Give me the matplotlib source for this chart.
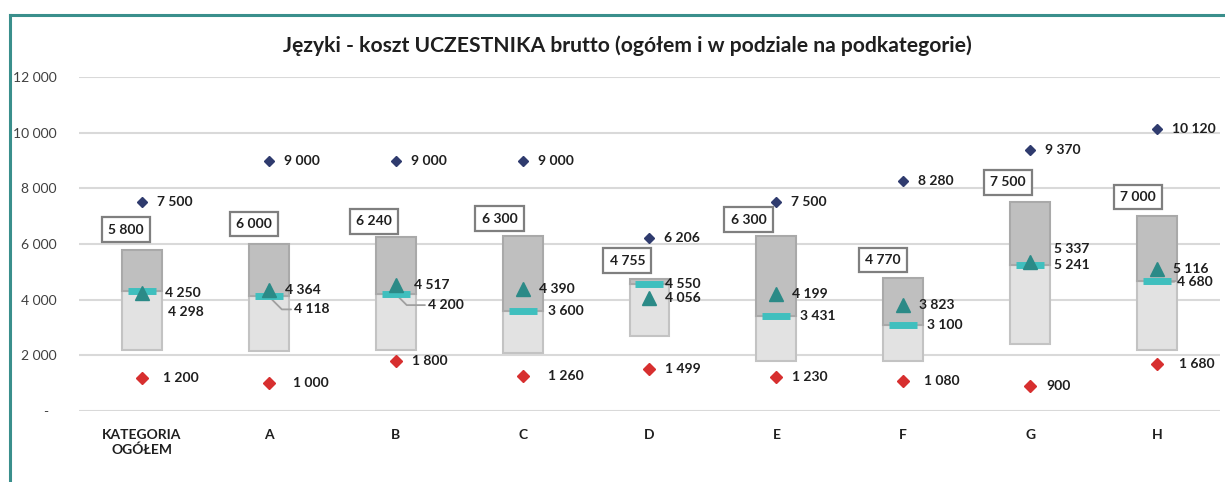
import matplotlib
matplotlib.use("Agg")
import matplotlib.pyplot as plt
from matplotlib.lines import Line2D
import numpy as np

plt.rcParams['font.family'] = ['Lato', 'DejaVu Sans']

categories = ['KATEGORIA\nOGÓŁEM', 'A', 'B', 'C', 'D', 'E', 'F', 'G', 'H']
q1 = [2200, 2150, 2200, 2100, 2700, 1800, 1800, 2400, 2200]
median = [4298, 4118, 4200, 3600, 4550, 3431, 3100, 5241, 4680]
q3 = [5800, 6000, 6240, 6300, 4755, 6300, 4770, 7500, 7000]
mean = [4250, 4364, 4517, 4390, 4056, 4199, 3823, 5337, 5116]
max_val = [7500, 9000, 9000, 9000, 6206, 7500, 8280, 9370, 10120]
min_val = [1200, 1000, 1800, 1260, 1499, 1230, 1080, 900, 1680]

# label placement tweaks (pixels)
mean_dx = [23, 16, 18, 16, 16, 16, 16, 24, 16]
mean_dy = [0, 0, 0, 0, 0, 0, 0, 13, 0]
med_dx = [26, 25, 32, 25, 16, 24, 24, 24, 20]
med_dy = [-21, -13, -11, 0, 0, 0, 0, 0, -1]
leader = [False, True, True, False, False, False, False, False, True]
min_dx = [21, 24, 16, 25, 16, 16, 21, 16, 22]
box_dx = [-16, -15, -22, -23, -22, -28, -20, -22, -19]
box_dy = [20, 20, 16, 17, 18, 16, 18, 20, 19]


def fmt(v):
    return f"{v:,}".replace(",", " ")


fig = plt.figure(figsize=(12.25, 4.82), dpi=100)
ax = fig.add_axes([0.0641, 0.1473, 0.9322, 0.6929])

x = np.arange(len(categories))
w = 0.315
lo_h = np.array(median) - np.array(q1)
hi_h = np.array(q3) - np.array(median)

ax.bar(x, lo_h, bottom=q1, width=w, color='#E2E2E2', edgecolor='#C3C3C3', linewidth=1.5, zorder=2)
ax.bar(x, hi_h, bottom=median, width=w, color='#BFBFBF', edgecolor='#A9A9A9', linewidth=1.5, zorder=2)

ax.plot(x, median, ls='none', marker='_', ms=20, mew=5, color='#3FBFBE', zorder=3)
ax.plot(x, mean, ls='none', marker='^', ms=9.5, color='#2B8A87', zorder=4)
ax.plot(x, max_val, ls='none', marker='D', ms=5.2, color='#2F3B6E', zorder=4)
ax.plot(x, min_val, ls='none', marker='D', ms=6.5, color='#D72F2F', zorder=4)

lab = dict(fontsize=10, fontweight='bold', color='#1F1F1F', ha='left', va='center',
           textcoords='offset pixels')

for i in range(len(categories)):
    ax.annotate(fmt(max_val[i]), (x[i], max_val[i]), xytext=(15, 0), zorder=5, **lab)
    ax.annotate(fmt(min_val[i]), (x[i], min_val[i]), xytext=(min_dx[i], 0), zorder=5, **lab)
    ax.annotate(fmt(mean[i]), (x[i], mean[i]), xytext=(mean_dx[i], mean_dy[i]), zorder=5, **lab)
    if leader[i]:
        ax.annotate(fmt(median[i]), (x[i], median[i]), xytext=(med_dx[i], med_dy[i]),
                    arrowprops=dict(arrowstyle='-', color='#A0A0A0', lw=1.3,
                                    shrinkA=0, shrinkB=0,
                                    connectionstyle='angle,angleA=0,angleB=135,rad=0',
                                    relpos=(0, 0.5)),
                    zorder=2.5, **lab)
    else:
        ax.annotate(fmt(median[i]), (x[i], median[i]), xytext=(med_dx[i], med_dy[i]), zorder=5, **lab)
    ax.annotate(fmt(q3[i]), (x[i], q3[i]), xytext=(box_dx[i], box_dy[i]),
                fontsize=10, fontweight='bold', color='#1F1F1F', ha='center', va='center',
                textcoords='offset pixels', zorder=5,
                bbox=dict(boxstyle='square,pad=0.45', fc='white', ec='#7F7F7F', lw=1.6))

ax.set_xlim(-0.5, len(categories) - 0.5)
ax.set_ylim(0, 12000)
yt = np.arange(0, 12001, 2000)
ax.set_yticks(yt)
ax.set_yticklabels(['-  '] + [fmt(v) for v in yt[1:]], fontsize=10, color='#404040')
ax.set_xticks(x)
ax.set_xticklabels(categories, fontsize=10, fontweight='bold', color='#1F1F1F')
ax.tick_params(axis='y', length=0, pad=16)
ax.tick_params(axis='x', length=0, pad=13)
ax.grid(axis='y', color='#D9D9D9', lw=1.5, zorder=0)
ax.set_axisbelow(True)
for s in ax.spines.values():
    s.set_visible(False)

fig.text(0.5125, 0.905, 'Języki - koszt UCZESTNIKA brutto (ogółem i w podziale na podkategorie)',
         ha='center', va='center', fontsize=15.2, fontweight='bold', color='#1F1F1F')

# teal chart frame (left and top edges)
fig.add_artist(Line2D([10 / 1225, 10 / 1225], [0, 1 - 15 / 482], color='#3A8F8C', lw=2.2))
fig.add_artist(Line2D([10 / 1225, 1], [1 - 15 / 482, 1 - 15 / 482], color='#3A8F8C', lw=2.2))

fig.savefig('out.png', dpi=100)
